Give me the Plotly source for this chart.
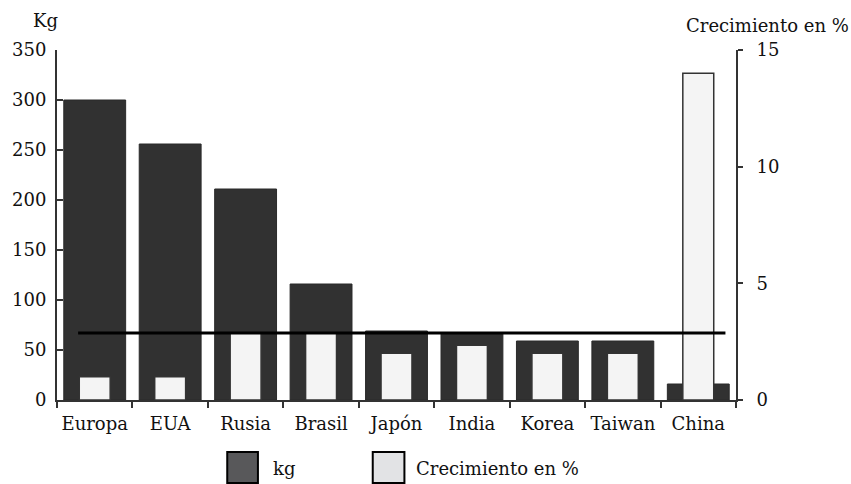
import plotly.graph_objects as go

categories = ["Europa", "EUA", "Rusia", "Brasil", "Japón", "India", "Korea", "Taiwan", "China"]
kg_values = [300, 256, 211, 116, 69, 67, 59, 59, 16]
growth_values = [1.0, 1.0, 2.9, 2.9, 2.0, 2.35, 2.0, 2.0, 14.0]
avg_kg = 67
left_ticks = [0, 50, 100, 150, 200, 250, 300, 350]
right_ticks = [0, 5, 10, 15]

FONT = "DejaVu Serif"
fs = 18

fig = go.Figure()
fig.add_trace(go.Bar(x=categories, y=kg_values, name="kg", width=0.82,
                     marker=dict(color="#313131", line=dict(color="#2a2a2a", width=1)),
                     yaxis="y", showlegend=False))
fig.add_trace(go.Bar(x=categories, y=growth_values, name="Crecimiento en %", width=0.41,
                     marker=dict(color="#f4f4f4", line=dict(color="#333333", width=1.5)),
                     yaxis="y2", showlegend=False))

fig.add_shape(type="line", xref="x", yref="y", x0=-0.22, x1=8.36, y0=avg_kg, y1=avg_kg,
              line=dict(color="black", width=3), layer="above")

fig.update_layout(
    width=851, height=484,
    margin=dict(l=50, r=115, t=50, b=84),
    paper_bgcolor="white", plot_bgcolor="white",
    font=dict(family=FONT, size=fs, color="#111111"),
    barmode="overlay",
    showlegend=False,
    xaxis=dict(range=[-0.5, 8.5], showline=True, linecolor="#333333", linewidth=2,
               ticks="outside", ticklen=6, tickwidth=2, tickcolor="#333333", tickangle=0,
               tickson="boundaries", showgrid=False, ticklabelstandoff=6,
               tickfont=dict(family=FONT, size=fs)),
    yaxis=dict(range=[0, 350], tickvals=left_ticks, showline=True, linecolor="#333333",
               linewidth=2, ticks="inside", ticklen=6, tickwidth=2, tickcolor="#333333",
               showgrid=False, zeroline=False, tickfont=dict(family=FONT, size=fs), ticklabelstandoff=5),
    yaxis2=dict(range=[0, 15], tickvals=right_ticks, overlaying="y", side="right",
                showline=True, linecolor="#333333", linewidth=2, ticks="outside", ticklen=5,
                tickwidth=2, tickcolor="#333333", showgrid=False, zeroline=False,
                tickfont=dict(family=FONT, size=fs), ticklabelstandoff=10),
)

# axis titles
fig.add_annotation(text="Kg", xref="paper", yref="paper", x=-0.017, y=1.0, yshift=30,
                   xanchor="center", yanchor="middle", showarrow=False, font=dict(family=FONT, size=fs))
fig.add_annotation(text="Crecimiento en %", xref="paper", yref="paper", x=1.046, y=1.0, yshift=25,
                   xanchor="center", yanchor="middle", showarrow=False, font=dict(family=FONT, size=fs))

# legend (manual, large swatches)
PW = 686
def px(x):
    return (x - 50) / PW
def py(y):
    return (400 - y) / 350
fig.add_shape(type="rect", xref="paper", yref="paper", x0=px(222), x1=px(253),
              y0=py(483), y1=py(452), fillcolor="#58585a",
              line=dict(color="black", width=2))
fig.add_annotation(text="kg", xref="paper", yref="paper", x=px(266), y=py(468),
                   xanchor="left", yanchor="middle", showarrow=False, font=dict(family=FONT, size=fs))
fig.add_shape(type="rect", xref="paper", yref="paper", x0=px(369), x1=px(401),
              y0=py(483), y1=py(452), fillcolor="#e2e3e5",
              line=dict(color="black", width=2))
fig.add_annotation(text="Crecimiento en %", xref="paper", yref="paper", x=px(411), y=py(468),
                   xanchor="left", yanchor="middle", showarrow=False, font=dict(family=FONT, size=fs))

fig.write_html("out.html")
